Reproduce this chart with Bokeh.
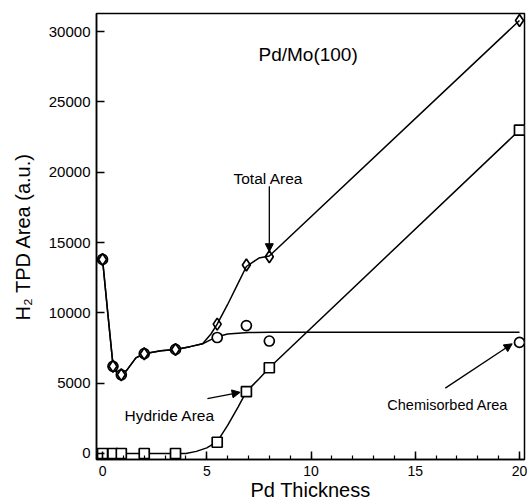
from bokeh.plotting import figure
from bokeh.models import Range1d, Label, Arrow, NormalHead, FixedTicker
from bokeh.embed import file_html
from bokeh.resources import INLINE

# measured points
x_pts = [0, 0.5, 0.9, 2, 3.5, 5.5, 6.9, 8, 20]
total_pts = [13800, 6200, 5600, 7100, 7400, 9200, 13400, 14000, 30800]
chem_pts = [13800, 6200, 5600, 7100, 7400, 8250, 9100, 8000, 7900]
hyd_pts = [0, 0, 0, 0, 0, 800, 4400, 6100, 23000]

# fitted curves
chem_fit_x = [0, 0.25, 0.5, 0.7, 0.9, 1.2, 1.6, 2, 2.8, 3.5, 4.2, 4.8, 5.2, 5.5, 6, 7, 8, 20]
chem_fit_y = [13800, 10000, 6300, 5700, 5500, 6000, 6800, 7100, 7300, 7400, 7600, 7800, 8100, 8300, 8500, 8600, 8620, 8620]
total_fit_x = [0, 0.25, 0.5, 0.7, 0.9, 1.2, 1.6, 2, 2.8, 3.5, 4.2, 4.8, 5.2, 5.5, 6, 6.5, 6.9, 7.5, 8, 20]
total_fit_y = [13800, 10000, 6300, 5700, 5500, 6000, 6800, 7100, 7300, 7400, 7600, 7800, 8500, 9200, 10600, 12100, 13300, 13900, 14050, 30800]
hyd_fit_x = [0, 4, 4.5, 5, 5.5, 6, 6.5, 6.9, 7.5, 8, 20]
hyd_fit_y = [0, 0, 150, 400, 850, 2000, 3300, 4400, 5300, 6100, 23000]

x_ticks = [0, 5, 10, 15, 20]
y_ticks = [0, 5000, 10000, 15000, 20000, 25000, 30000]

FONT = "Liberation Sans"

p = figure(width=527, height=504, output_backend="svg", toolbar_location=None,
           x_range=Range1d(-0.29, 20.24), y_range=Range1d(-427, 31294),
           min_border_left=96, min_border_right=3, min_border_top=13, min_border_bottom=45)
p.grid.visible = False
p.background_fill_color = "white"
p.outline_line_color = "black"
p.outline_line_width = 1.5

p.xaxis.ticker = FixedTicker(ticks=x_ticks, minor_ticks=list(range(0, 21)))
p.yaxis.ticker = FixedTicker(ticks=y_ticks)
for ax in (p.xaxis[0], p.yaxis[0]):
    ax.axis_line_width = 1.5
    ax.axis_line_color = "black"
    ax.major_tick_in = 8
    ax.major_tick_out = 0
    ax.major_tick_line_width = 1.5
    ax.major_tick_line_color = "black"
    ax.major_label_text_color = "black"
    ax.major_label_text_font = FONT
    ax.axis_label_text_font = FONT
    ax.axis_label_text_font_style = "normal"
    ax.axis_label_text_color = "black"
    ax.axis_label_text_font_size = "20px"
p.xaxis.minor_tick_in = 4
p.xaxis.minor_tick_out = 0
p.xaxis.minor_tick_line_width = 1.2
p.xaxis.minor_tick_line_color = "black"
p.yaxis.minor_tick_line_color = None
p.xaxis.major_label_text_font_size = "14px"
p.yaxis.major_label_text_font_size = "15px"
p.xaxis.major_label_standoff = 6
p.yaxis.major_label_standoff = 6
p.xaxis.axis_label_standoff = 0
p.yaxis.axis_label_standoff = 12
p.xaxis.axis_label = "Pd Thickness"
p.yaxis.axis_label = "H\u2082 TPD Area (a.u.)"

# curves
p.line(chem_fit_x, chem_fit_y, line_color="black", line_width=1.5)
p.line(total_fit_x, total_fit_y, line_color="black", line_width=1.5)
p.line(hyd_fit_x, hyd_fit_y, line_color="black", line_width=1.5)

# markers
p.scatter(x_pts, chem_pts, marker="circle", size=10, fill_color="white", line_color="black", line_width=1.7)
p.scatter(x_pts, total_pts, marker="diamond", size=12, fill_color=None, line_color="black", line_width=1.7)
p.scatter(x_pts, hyd_pts, marker="square", size=10, fill_color="white", line_color="black", line_width=1.7)

# text
p.add_layout(Label(x=7.48, y=28370, text="Pd/Mo(100)", text_font=FONT, text_font_size="19px",
                   text_color="black", text_baseline="alphabetic"))
p.add_layout(Label(x=6.28, y=19550, text="Total Area", text_font=FONT, text_font_size="15.5px",
                   text_color="black", text_baseline="alphabetic"))
p.add_layout(Label(x=1.05, y=2700, text="Hydride Area", text_font=FONT, text_font_size="15.5px",
                   text_color="black", text_baseline="alphabetic"))
p.add_layout(Label(x=13.66, y=3480, text="Chemisorbed Area", text_font=FONT, text_font_size="14.5px",
                   text_color="black", text_baseline="alphabetic"))

# arrows
def head():
    return NormalHead(size=8, fill_color="black", line_color="black", line_width=1)

p.add_layout(Arrow(end=head(), x_start=8, y_start=19000, x_end=8, y_end=14350,
                   line_color="black", line_width=1.3))
p.add_layout(Arrow(end=head(), x_start=5.03, y_start=3900, x_end=6.6, y_end=4350,
                   line_color="black", line_width=1.3))
p.add_layout(Arrow(end=head(), x_start=16.44, y_start=4650, x_end=19.65, y_end=7800,
                   line_color="black", line_width=1.3))

open("out.html", "w").write(file_html(p, INLINE))
